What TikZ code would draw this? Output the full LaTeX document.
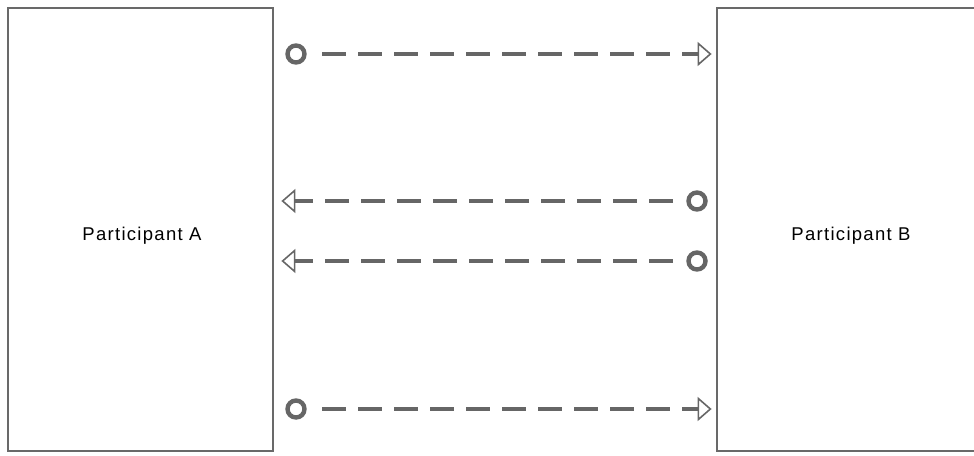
\documentclass[tikz,border=0pt]{standalone}
\usepackage{fontspec}
\setmainfont{Liberation Sans}
\usetikzlibrary{arrows.meta, positioning}
\definecolor{linegray}{RGB}{102,102,102}
\definecolor{boxgray}{RGB}{105,105,105}
\tikzset{
  participant/.style = {rectangle, draw=boxgray, line width=2.8pt, fill=white},
  partlabel/.style   = {inner sep=0pt, font=\fontsize{18.5}{22}\selectfont\addfontfeature{LetterSpace=7}},
  endpt/.style       = {circle, draw=linegray, line width=4.4pt, minimum size=17pt, inner sep=0pt},
  msg/.style         = {draw=linegray, line width=4pt, dash pattern=on 24pt off 12pt,
                        -{Triangle[open, length=14pt, width=24pt, line width=1.6pt]}},
}

\begin{document}
\begin{tikzpicture}[x=1pt, y=-1pt]
  % Rahmen wie im Original
  \useasboundingbox (0,0) rectangle (974,455);
  \clip (0,0) rectangle (974,455);

  % Teilnehmer
  \node[participant, minimum width=265pt, minimum height=443pt] (partA) at (140.5,229.5) {};
  \node[participant, minimum width=268pt, minimum height=443pt] (partB) at (851,229.5) {};
  \node[partlabel, anchor=base] (labA) at (142,240) {Participant A};
  \node[partlabel, anchor=base] (labB) at (851,240) {Participant B};

  % Nachrichtenenden
  \node[endpt] (srcA) at (296,54) {};
  \node[endpt] (srcB) at (697,201) {};
  \node[endpt] (srcC) at (697,261) {};
  \node[endpt] (srcD) at (296,409) {};

  % Nachrichten
  \draw[msg, shorten <=26pt, shorten >=4pt] (srcA.center) -- (partB.west |- srcA);
  \draw[msg, shorten <=24pt, shorten >=7pt] (srcB.center) -- (partA.east |- srcB);
  \draw[msg, shorten <=24pt, shorten >=7pt] (srcC.center) -- (partA.east |- srcC);
  \draw[msg, shorten <=26pt, shorten >=4pt] (srcD.center) -- (partB.west |- srcD);
\end{tikzpicture}
\end{document}
